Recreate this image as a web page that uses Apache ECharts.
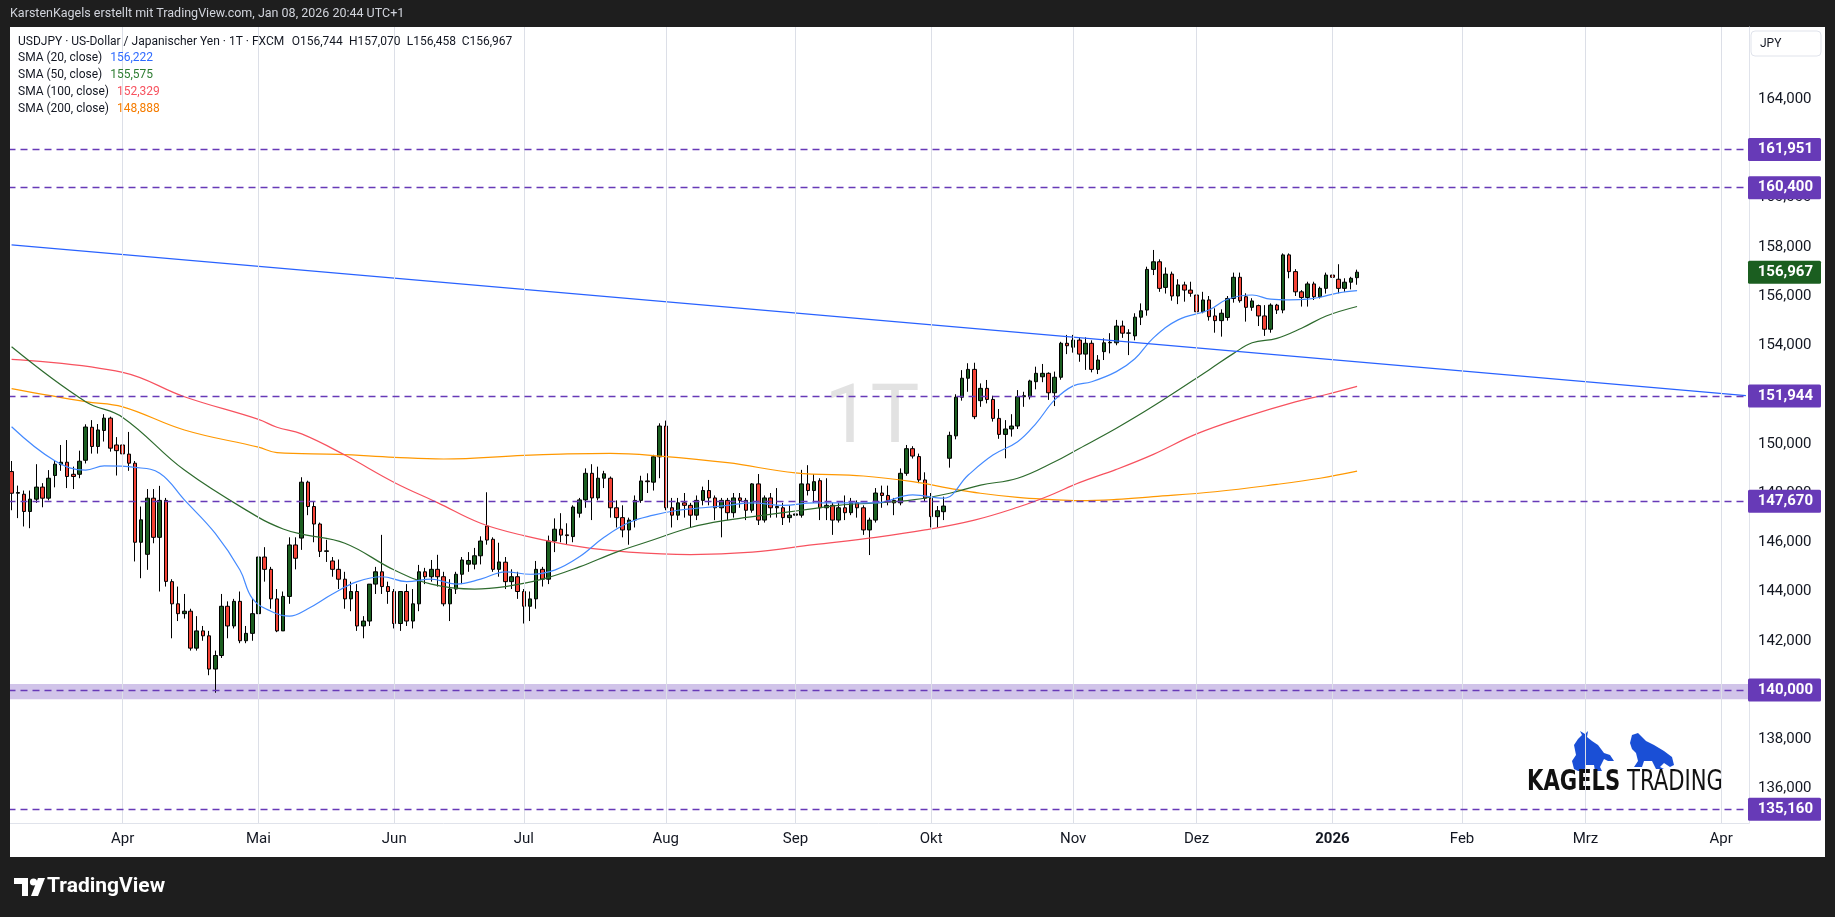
<!DOCTYPE html>
<html><head><meta charset="utf-8">
<script src="https://cdn.jsdelivr.net/npm/echarts@6/dist/echarts.min.js"></script>
<style>
html,body{margin:0;padding:0;background:#1e1e1e;overflow:hidden;}
#panel{position:absolute;left:10px;top:27px;width:1815px;height:830px;background:#ffffff;}
#c{position:absolute;left:0;top:0;width:1835px;height:917px;}
</style>
</head><body><div id="panel"></div><div id="c"></div>
<script>
// ---------- calendar ----------
const startDate = '2025-03-06';
const endDate = '2026-04-07';
const closedDays = ['2025-12-25', '2026-01-01'];
const monthNames = ['Jan','Feb','Mrz','Apr','Mai','Jun','Jul','Aug','Sep','Okt','Nov','Dez'];

// ---------- OHLC (open, close, low, high) from 2025-03-06 ----------
const ohlc = [
[148.87,147.99,147.3,149.3],[147.99,148.02,146.98,148.3],
[147.95,147.25,146.64,148.1],[147.25,147.75,146.57,148.1],[147.75,148.24,147.6,149.17],[148.24,147.79,147.42,148.4],[147.79,148.6,147.7,148.93],
[148.71,149.17,148.23,149.34],[149.15,149.25,148.9,149.95],[149.25,148.67,148.2,150.15],[148.76,148.67,148.16,149.07],[148.76,149.29,148.6,149.72],
[149.33,150.68,149.2,150.79],[150.67,149.89,149.6,150.96],[149.89,150.56,149.6,150.8],[150.54,151.04,150.09,151.2],[151.04,149.82,149.68,151.1],
[149.95,149.72,148.71,150.27],[149.95,149.59,149.0,150.15],[149.58,149.21,148.9,150.48],[149.21,146.0,145.22,149.3],[146.0,146.91,144.54,147.45],
[145.51,147.79,144.88,148.16],[147.79,146.2,145.96,148.16],[146.2,147.7,144.0,148.29],[147.7,144.41,144.2,147.8],[144.4,143.5,142.1,144.5],
[143.5,143.1,142.8,144.2],[143.1,143.2,142.9,143.9],[143.2,141.7,141.6,143.3],[141.7,142.4,141.6,143.0],[142.4,142.2,142.0,142.6],
[142.2,140.85,140.6,142.4],[140.85,141.4,139.89,141.6],[141.4,143.4,141.3,143.9],[143.4,142.6,142.1,143.6],[142.6,143.6,142.5,143.7],
[143.6,142.0,141.9,144.0],[142.0,142.3,141.9,142.6],[142.3,143.1,142.0,143.7],[143.1,145.4,142.9,145.9],[145.4,144.9,144.4,145.8],
[144.9,143.7,143.3,145.0],[143.7,142.4,142.35,144.1],[142.4,143.8,142.4,144.0],[143.8,145.89,143.5,146.2],[145.89,145.35,144.9,146.2],
[146.17,148.44,145.69,148.64],[148.44,147.45,147.1,148.5],[147.45,146.74,146.0,147.65],[146.74,145.63,145.4,146.8],[145.63,145.65,145.2,146.1],
[145.24,144.9,144.6,145.4],[144.9,144.5,144.1,145.3],[144.5,143.7,143.3,144.8],[143.7,144.0,143.2,144.4],[144.0,142.6,142.4,144.3],
[142.6,142.8,142.1,143.0],[142.8,144.3,142.6,144.3],[144.3,144.8,143.9,145.0],[144.8,144.2,143.9,146.3],[144.2,144.0,143.5,144.4],
[144.0,142.7,142.5,144.1],[142.7,144.0,142.4,144.0],[144.0,142.8,142.6,144.3],[142.8,143.5,142.5,144.1],[143.5,144.8,143.2,145.08],
[144.8,144.6,144.3,144.96],[144.6,144.9,144.4,145.28],[144.9,144.6,144.2,145.49],[144.6,143.5,143.4,144.8],[143.5,144.1,142.8,144.5],
[144.1,144.7,143.9,144.8],[144.7,145.28,144.3,145.4],[145.11,145.26,144.8,145.6],[145.11,145.45,144.9,145.77],[145.45,146.05,145.1,146.24],
[146.66,146.09,145.9,148.03],[146.12,144.9,144.8,146.2],[144.9,145.2,144.6,145.98],[145.19,144.4,144.1,145.4],[144.4,144.6,144.1,144.9],
[144.6,144.0,143.7,144.8],[144.0,143.4,142.7,144.1],[143.4,143.7,142.8,144.0],[143.7,144.9,143.3,145.24],[144.9,144.5,144.2,145.0],
[144.5,146.05,144.3,146.27],[146.05,146.53,145.6,146.97],[146.53,146.29,146.0,147.18],[146.3,146.27,145.9,146.77],[146.23,147.43,146.0,147.5],
[147.18,147.72,147.0,147.8],[147.72,148.8,147.4,149.0],[148.8,147.8,146.9,149.17],[147.8,148.6,147.7,149.07],[148.6,148.78,148.2,148.9],
[148.6,147.4,147.0,148.67],[147.4,147.0,146.6,147.7],[147.0,146.5,146.2,147.5],[146.5,146.9,145.9,147.0],[146.9,147.7,146.6,147.9],
[147.7,148.49,147.6,148.7],[148.49,148.46,148.0,148.8],[148.44,149.47,148.1,149.55],[149.47,150.72,148.6,150.83],[150.72,147.4,147.3,150.94],
[147.4,147.1,146.6,147.8],[147.1,147.6,146.9,147.8],[147.6,147.5,147.0,148.0],[147.5,147.1,146.6,147.6],[147.1,147.7,146.9,147.9],
[147.7,148.1,147.5,148.26],[148.1,147.8,147.5,148.53],[147.8,147.4,146.9,147.9],[147.4,147.7,146.2,147.8],[147.7,147.2,146.9,147.8],
[147.2,147.8,147.0,148.0],[147.8,147.7,147.4,148.0],[147.7,147.3,146.9,147.8],[147.3,148.37,147.2,148.4],[148.37,146.9,146.7,148.77],
[146.9,147.8,146.8,147.9],[147.8,147.4,147.0,148.0],[147.4,147.45,147.0,148.2],[147.4,147.0,146.7,147.6],[147.0,147.1,146.8,147.5],
[147.1,147.15,146.8,147.5],[147.1,148.37,147.0,148.94],[148.37,148.1,147.9,149.13],[148.1,148.46,147.6,148.77],[148.5,147.4,146.9,148.6],
[147.4,147.5,146.9,148.6],[147.5,146.9,146.3,147.6],[146.9,147.4,146.8,147.6],[147.4,147.2,146.9,147.9],[147.2,147.6,147.1,147.8],
[147.6,147.4,147.0,147.7],[147.4,146.5,146.3,147.5],[146.5,146.9,145.48,147.0],[146.9,148.0,146.8,148.2],[148.0,147.9,147.4,148.3],
[147.9,147.7,147.5,148.3],[147.7,147.6,147.1,147.8],[147.6,148.8,147.5,149.0],[148.8,149.8,148.7,149.95],[149.8,149.5,149.4,149.9],
[149.48,148.53,148.4,149.6],[148.53,147.79,147.65,148.84],[147.79,147.04,146.6,148.0],[147.04,147.28,146.6,147.47],[147.24,147.47,146.9,147.85],
[149.41,150.34,149.03,150.49],[150.32,151.89,150.18,152.01],[151.89,152.66,151.75,152.99],[152.66,153.02,152.11,153.27],[153.02,151.1,151.0,153.29],
[151.75,152.25,151.5,152.45],[152.25,151.8,151.64,152.59],[151.8,151.03,150.9,151.95],[151.03,150.38,150.2,151.41],[150.38,150.6,149.41,150.96],
[150.6,150.72,150.29,151.2],[150.72,151.91,150.6,152.18],[151.91,151.95,151.5,152.11],[151.91,152.55,151.8,152.6],[152.52,152.86,152.21,153.13],
[152.72,152.86,152.5,153.24],[152.86,152.07,151.78,152.9],[152.07,152.7,151.53,152.93],[152.7,154.08,152.6,154.14],[154.08,153.98,153.64,154.42],
[153.92,154.21,153.7,154.42],[154.21,153.64,153.33,154.32],[153.64,154.08,153.0,154.32],[154.08,153.02,152.9,154.2],[153.02,153.4,152.83,153.6],
[153.74,154.1,153.4,154.28],[154.1,154.12,153.67,154.49],[154.1,154.78,154.0,155.03],[154.78,154.49,154.3,155.0],[154.49,154.5,153.6,154.65],
[154.38,155.14,154.2,155.3],[155.14,155.4,154.82,155.7],[155.43,157.08,155.2,157.19],[157.08,157.39,156.85,157.87],[157.39,156.31,156.17,157.49],
[156.35,156.89,156.1,157.16],[156.89,156.0,155.81,156.99],[156.0,156.45,155.67,156.68],[156.45,156.24,155.77,156.58],[156.24,156.11,155.97,156.58],
[156.04,155.36,154.69,156.17],[155.36,155.84,155.3,156.17],[155.84,155.16,155.0,156.0],[155.19,155.0,154.51,155.5],[155.0,155.3,154.35,155.46],
[155.13,155.9,155.0,156.0],[155.9,156.76,155.73,156.95],[156.76,155.81,155.73,156.95],[155.97,155.54,154.96,156.11],[155.54,155.8,155.4,155.91],
[155.61,155.19,154.78,155.65],[155.19,154.65,154.38,155.63],[154.65,155.63,154.51,155.7],[155.63,155.43,155.27,155.68],[155.43,157.67,155.3,157.73],
[157.67,156.99,156.72,157.73],[156.99,156.17,156.0,157.09],[156.17,155.94,155.57,156.24],[155.94,156.49,155.57,156.58],
[156.49,155.97,155.84,156.58],[155.97,156.31,155.9,156.38],[156.31,156.85,156.1,156.95],[156.85,156.76,156.54,156.92],
[156.68,156.31,156.11,157.29],[156.31,156.56,156.17,156.72],[156.56,156.72,156.27,156.78],[156.744,156.967,156.458,157.07]
];

// ---------- moving averages: [bar index, value] ----------
const sma20 = [[0,150.69],[7,149.31],[12,148.93],[15,149.10],[20,149.04],[24,148.80],[28,147.72],[33,146.36],[37,144.87],[39,143.72],[42,143.2],[45,143.0],[48,143.3],[52,143.9],[56,144.4],[60,144.6],[64,144.4],[68,144.5],[72,144.3],[76,144.5],[80,144.8],[84,144.7],[88,144.87],[92,145.41],[96,146.2],[100,146.8],[104,147.1],[108,147.3],[112,147.4],[116,147.5],[120,147.6],[125,147.5],[130,147.6],[135,147.6],[140,147.6],[146,147.92],[151,147.79],[155,148.73],[159,149.54],[163,150.08],[166,150.83],[169,151.78],[172,152.35],[175,152.52],[179,152.93],[182,153.45],[185,154.3],[189,155.03],[194,155.43],[197,155.87],[201,156.04],[204,155.87],[207,155.84],[210,155.87],[212,155.95],[215,156.13],[218,156.222]];
const sma50 = [[0,153.94],[12,151.71],[18,151.07],[28,148.93],[40,147.01],[44,146.54],[47,146.33],[54,145.96],[62,144.87],[68,144.3],[75,144.1],[80,144.2],[86,144.5],[92,145.0],[98,145.6],[104,146.1],[110,146.6],[116,146.9],[122,147.1],[128,147.3],[134,147.5],[140,147.6],[146,147.72],[152,147.99],[157,148.32],[163,148.6],[169,149.27],[173,149.81],[179,150.63],[185,151.53],[194,153.0],[198,153.67],[201,154.1],[205,154.28],[209,154.69],[213,155.19],[218,155.575]];
const sma100 = [[0,153.43],[18,152.9],[28,151.91],[40,150.99],[43,150.67],[47,150.40],[54,149.54],[62,148.43],[69,147.61],[76,146.77],[83,146.27],[92,145.82],[100,145.6],[110,145.5],[120,145.6],[130,145.9],[140,146.2],[148,146.5],[156,146.9],[163,147.42],[168,147.88],[173,148.42],[179,148.96],[185,149.57],[192,150.4],[200,151.1],[208,151.7],[213,152.0],[218,152.329]];
const sma200 = [[0,152.24],[12,151.71],[18,151.50],[28,150.56],[40,149.86],[43,149.64],[53,149.57],[62,149.45],[70,149.38],[83,149.53],[89,149.58],[97,149.61],[105,149.50],[116,149.23],[127,148.82],[138,148.69],[146,148.46],[152,148.19],[157,147.99],[163,147.82],[168,147.74],[173,147.69],[179,147.74],[185,147.85],[195,148.05],[205,148.35],[212,148.6],[218,148.888]];

// ---------- drawings ----------
const trendLine = [[0,158.08],[281,151.955]];
const levels = [161.951, 160.400, 151.944, 147.670, 140.000, 135.160];
const zoneBand = [139.62, 140.24];
const lastClose = 156.967;
const priceTicks = [136,138,140,142,144,146,148,150,152,154,156,158,160,162,164];
const legendTitle = 'USDJPY · US-Dollar / Japanischer Yen · 1T · FXCM';
const ohlcLegend = [['O','156,744'],['H','157,070'],['L','156,458'],['C','156,967']];
const smaLegend = [['SMA (20, close)','156,222','#2f6bff'],['SMA (50, close)','155,575','#2e7d32'],['SMA (100, close)','152,329','#f7525f'],['SMA (200, close)','148,888','#f57c00']];

// build trading-day categories
function iso(d){return d.toISOString().slice(0,10);}
const dates = [];
for (let d = new Date(startDate+'T00:00:00Z'); iso(d) <= endDate; d.setUTCDate(d.getUTCDate()+1)) {
  const wd = d.getUTCDay();
  if (wd === 0 || wd === 6) continue;
  if (closedDays.includes(iso(d))) continue;
  dates.push(iso(d));
}
const monthStart = new Set();
for (let i = 1; i < dates.length; i++) if (dates[i].slice(5,7) !== dates[i-1].slice(5,7)) monthStart.add(i);
const monthStartDates = [...monthStart].map(i => dates[i]);
const fmt = v => v.toFixed(3).replace('.', ',');

const FONT = 'Roboto, "Noto Sans", sans-serif';
const chart = echarts.init(document.getElementById('c'));
const option = {
  animation: false,
  grid: {left: 8.5, right: 86, top: 27, bottom: 94},
  xAxis: {
    type: 'category', data: dates, boundaryGap: true,
    axisLine: {show: true, lineStyle: {color: '#e0e3eb'}},
    axisTick: {show: false},
    splitLine: {show: false},
    axisLabel: {
      interval: (i) => monthStart.has(i),
      margin: 9, color: '#131722', fontSize: 15, fontFamily: FONT,
      formatter: (v) => { const m = +v.slice(5,7) - 1; return m === 0 ? '{b|' + v.slice(0,4) + '}' : monthNames[m]; },
      rich: {b: {fontWeight: 'bold', fontSize: 15, color: '#131722', fontFamily: FONT}}
    }
  },
  yAxis: {
    type: 'value', position: 'right', min: 134.599, max: 166.924, scale: true,
    axisLine: {show: true, lineStyle: {color: '#e0e3eb'}},
    axisTick: {show: false},
    splitLine: {show: false},
    axisLabel: {customValues: priceTicks, formatter: fmt, margin: 9, color: '#131722', fontSize: 15, fontFamily: FONT}
  },
  series: [
    {
      type: 'line', data: [], z: 1, silent: true,
      markLine: {silent: true, symbol: ['none','none'], animation: false,
        label: {show: false}, lineStyle: {color: '#dcdfe7', type: 'solid', width: 1},
        data: monthStartDates.map(d => ({xAxis: d}))},
      markArea: {silent: true, itemStyle: {color: 'rgba(103,58,183,0.30)'},
        data: [[{yAxis: zoneBand[0]}, {yAxis: zoneBand[1]}]]}
    },
    {
      type: 'line', data: [], z: 4, silent: true,
      markLine: {silent: true, symbol: ['none','none'], animation: false,
        label: {show: false}, lineStyle: {color: '#673ab7', type: [7,5], width: 1.3},
        data: levels.map(v => ({yAxis: v}))}
    },
    {
      type: 'candlestick', data: ohlc, barWidth: 4, z: 2,
      itemStyle: {color: '#1b5e20', color0: '#f44336', borderColor: '#000000', borderColor0: '#000000', borderWidth: 1}
    },
    {type: 'line', data: sma200, smooth: 0.4, symbol: 'none', z: 3, lineStyle: {color: '#ff9800', width: 1.2}},
    {type: 'line', data: sma100, smooth: 0.4, symbol: 'none', z: 3, lineStyle: {color: '#f7525f', width: 1.2}},
    {type: 'line', data: sma50, smooth: 0.4, symbol: 'none', z: 3, lineStyle: {color: '#2e6b2e', width: 1.2}},
    {type: 'line', data: sma20, smooth: 0.4, symbol: 'none', z: 3, lineStyle: {color: '#448aff', width: 1.2}},
    {type: 'line', data: trendLine, symbol: 'none', z: 3, lineStyle: {color: '#2962ff', width: 1.2}}
  ]
};
chart.setOption(option);

// ---------- overlays ----------
const g = [];
// watermark
g.push({type: 'text', z: 0, x: 872, y: 421, silent: true,
  style: {text: '1T', fill: '#e2e2e2', fontSize: 82, fontFamily: FONT, align: 'center', verticalAlign: 'middle'}});
// header
g.push({type: 'text', z: 100, x: 10, y: 14, style: {text: 'KarstenKagels erstellt mit TradingView.com, Jan 08, 2026 20:44 UTC+1', fill: '#d1d4dc', fontSize: 12.5, fontFamily: FONT, verticalAlign: 'middle'}});
// legend
const lx = 18, ly0 = 41.5, ldy = 16.9;
g.push({type: 'text', z: 100, x: lx, y: ly0, style: {text: legendTitle, fill: '#131722', fontSize: 12, fontFamily: FONT, verticalAlign: 'middle'}});
const ohlcX = [291.7, 349, 406.7, 461.7];
ohlcLegend.forEach((p, i) => g.push({type: 'text', z: 100, x: ohlcX[i], y: ly0,
  style: {text: p[0] + p[1], fill: '#131722', fontSize: 12, fontFamily: FONT, verticalAlign: 'middle'}}));
smaLegend.forEach((p, i) => g.push({type: 'text', z: 100, x: lx, y: ly0 + ldy * (i + 1),
  style: {text: '{a|' + p[0] + '}{v|' + p[1] + '}', verticalAlign: 'middle',
    rich: {a: {fill: '#131722', fontSize: 12, fontFamily: FONT}, v: {fill: p[2], fontSize: 12, fontFamily: FONT, padding: [0,0,0,8]}}}}));
// JPY box
g.push({type: 'rect', z: 100, shape: {x: 1751, y: 31, width: 70, height: 25, r: 4}, style: {fill: '#ffffff', stroke: '#e0e3eb', lineWidth: 1}});
g.push({type: 'text', z: 101, x: 1760, y: 43.5, style: {text: 'JPY', fill: '#131722', fontSize: 12, fontFamily: FONT, verticalAlign: 'middle'}});
// price labels
function priceBox(v, color){
  const y = chart.convertToPixel({yAxisIndex: 0}, v);
  g.push({type: 'rect', z: 100, shape: {x: 1748, y: y - 11.5, width: 73, height: 23, r: 1.5}, style: {fill: color}});
  g.push({type: 'text', z: 101, x: 1813, y: y, style: {text: fmt(v), fill: '#ffffff', fontSize: 15, fontWeight: 'bold', fontFamily: FONT, align: 'right', verticalAlign: 'middle'}});
}
levels.forEach(v => priceBox(v, '#673ab7'));
priceBox(lastClose, '#1b5e20');
// left frame edge
g.push({type: 'rect', z: 100, shape: {x: 0, y: 27, width: 10, height: 830}, style: {fill: '#1e1e1e'}});
// TradingView logo
g.push({type: 'group', z: 100, x: 14, y: 878, children: [
  {type: 'polygon', shape: {points: [[0,0],[14,0],[14,18],[8,18],[8,6],[0,6]]}, style: {fill: '#ffffff'}},
  {type: 'circle', shape: {cx: 19.5, cy: 4, r: 3.6}, style: {fill: '#ffffff'}},
  {type: 'polygon', shape: {points: [[24,0],[31,0],[24,18],[17,18]]}, style: {fill: '#ffffff'}}
]});
g.push({type: 'text', z: 100, x: 47, y: 887, style: {text: 'TradingView', fill: '#ffffff', fontSize: 21, fontWeight: 'bold', fontFamily: FONT, verticalAlign: 'middle'}});
// Kagels Trading logo
const blue = '#1a4fd6';
g.push({type: 'group', z: 50, x: 1568, y: 731, children: [
  {type: 'polygon', shape: {points: [[6,38],[4,30],[8,24],[6,14],[10,8],[14,4],[12,0],[17,3],[20,0],[19,6],[24,10],[30,14],[36,22],[42,24],[46,30],[40,30],[36,28],[32,36],[34,40],[27,40],[26,34],[18,34],[16,40],[10,40]]}, style: {fill: blue}},
  {type: 'polygon', shape: {points: [[62,12],[64,4],[70,2],[74,6],[78,10],[86,14],[96,20],[104,26],[106,34],[102,36],[96,32],[92,36],[96,38],[88,38],[84,30],[76,30],[74,36],[66,36],[70,30],[68,22],[64,18]]}, style: {fill: blue}}
]});
g.push({type: 'group', z: 50, x: 1527, y: 783, scaleX: 0.84, children: [
  {type: 'text', x: 0, y: 0, style: {text: '{k|KAGELS}{t| TRADING}', verticalAlign: 'middle',
    rich: {k: {fill: '#111111', fontSize: 28, fontWeight: 'bold', fontFamily: '"DejaVu Sans Condensed", "DejaVu Sans", sans-serif'},
           t: {fill: '#111111', fontSize: 28, fontFamily: '"DejaVu Sans Condensed", "DejaVu Sans", sans-serif'}}}}
]});
chart.setOption({graphic: {elements: g}});
</script>
</body></html>
